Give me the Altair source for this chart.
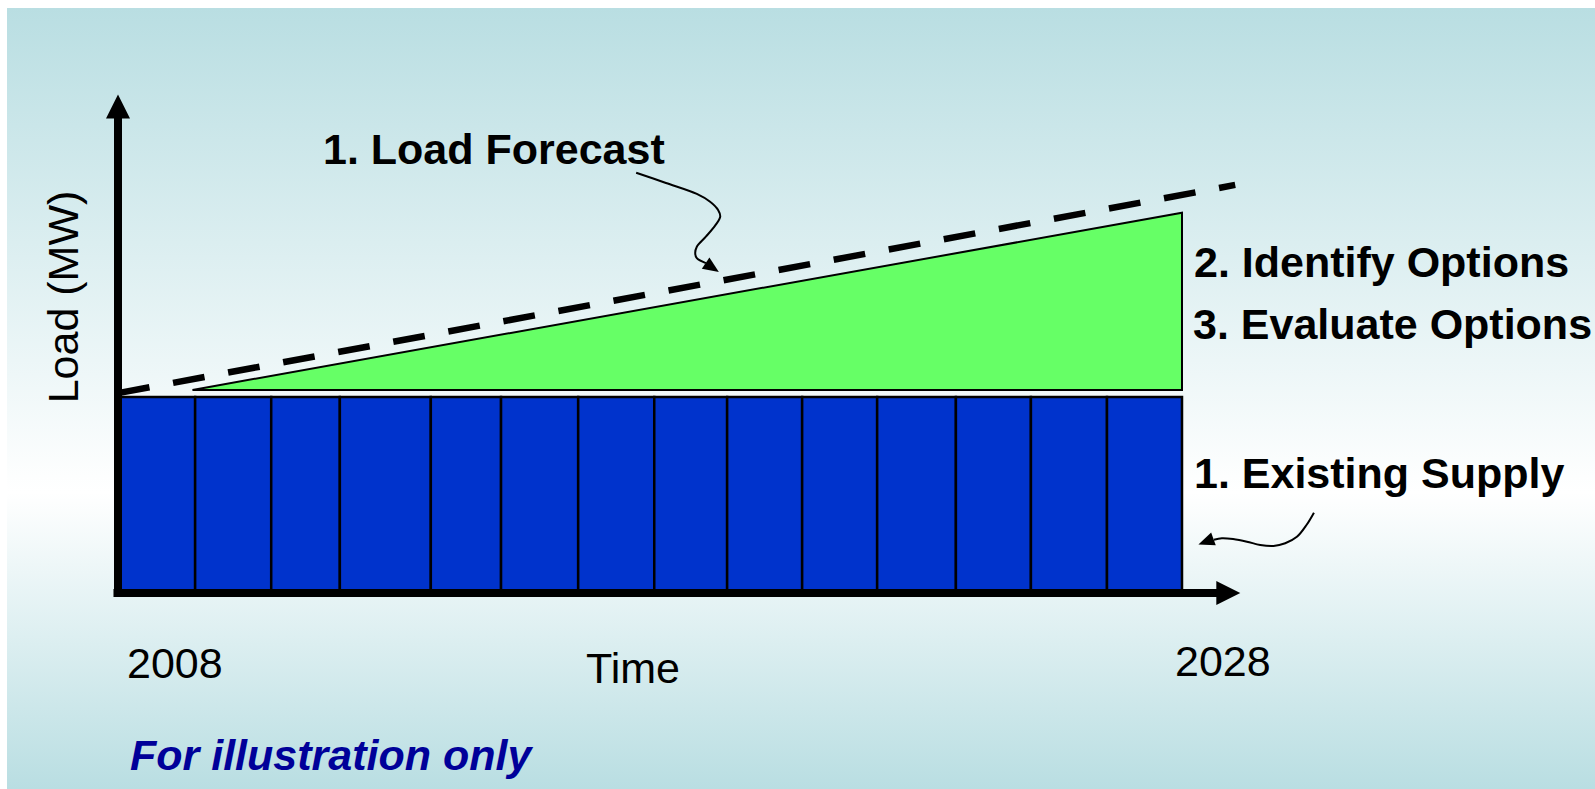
import altair as alt
import pandas as pd

# ---------------------------------------------------------------- data
# Existing supply: 14 generating units laid side by side over the horizon
unit_start = [2008.00, 2009.45, 2010.88, 2012.17, 2013.88, 2015.20, 2016.65,
              2018.08, 2019.45, 2020.86, 2022.27, 2023.75, 2025.16, 2026.59]
unit_end = [2009.45, 2010.88, 2012.17, 2013.88, 2015.20, 2016.65, 2018.08,
            2019.45, 2020.86, 2022.27, 2023.75, 2025.16, 2026.59, 2028.00]
existing_supply_mw = 1000

# Load forecast (dashed line)
forecast_year = [2008.0, 2029.0]
forecast_mw = [1020, 2082]

# Capacity gap between forecast load and existing supply (green wedge)
gap_year = [2009.4, 2028.0]
gap_top_mw = [1036, 1940]
gap_base_mw = 1036

# Axis lines (year / MW extents) and arrow tips
axis_x_from = [2008.0, 2007.915]
axis_x_to = [2008.0, 2028.66]
axis_y_from = [-20, 0]
axis_y_to = [2423, 0]
y_arrow_at = (2008.0, 2482)
x_arrow_at = (2028.87, 0)

# Callout connectors
load_callout_year = [2017.74, 2018.30, 2018.88, 2019.13, 2019.28, 2019.32,
                     2019.23, 2019.05, 2018.88, 2018.85, 2018.88, 2019.05]
load_callout_mw = [2144, 2092, 2036, 1996, 1954, 1920,
                   1877, 1818, 1767, 1733, 1708, 1683]
load_head_at = (2019.17, 1660)

supply_callout_year = [2030.48, 2030.34, 2030.16, 2029.94, 2029.72,
                       2029.47, 2029.22, 2028.96, 2028.75, 2028.60]
supply_callout_mw = [410, 347, 287, 254, 240, 245, 262, 275, 279, 272]
supply_head_at = (2028.45, 262)

# ---------------------------------------------------------------- scales
FONT = "Liberation Sans"
W, H = 1595, 789
xs = alt.Scale(domain=[2008, 2028], range=[118, 1182], nice=False, zero=False)
ys = alt.Scale(domain=[0, 1000], range=[593, 397], nice=False, zero=False)


def X(field):
    return alt.X(field, type="quantitative", scale=xs, axis=None)


def Y(field):
    return alt.Y(field, type="quantitative", scale=ys, axis=None)


one = pd.DataFrame({"k": [0]})

# ---------------------------------------------------------------- layers
background = alt.Chart(one).mark_rect(
    fill={
        "gradient": "linear", "x1": 0, "y1": 0, "x2": 0, "y2": 1,
        "stops": [
            {"offset": 0, "color": "#B9DEE2"},
            {"offset": 0.62, "color": "#FFFFFF"},
            {"offset": 1, "color": "#B9DEE2"},
        ],
    }
).encode(x=alt.value(7), x2=alt.value(W), y=alt.value(8), y2=alt.value(H))

units = pd.DataFrame({
    "start": unit_start,
    "end": unit_end,
    "base": [0] * len(unit_start),
    "top": [existing_supply_mw] * len(unit_start),
})
supply = alt.Chart(units).mark_rect(
    fill="#0033CC", stroke="black", strokeWidth=2.5
).encode(x=X("start"), x2="end", y=Y("base"), y2="top")

gap = pd.DataFrame({"year": gap_year, "top": gap_top_mw,
                    "base": [gap_base_mw] * len(gap_year)})
wedge = alt.Chart(gap).mark_area(
    color="#66FF66", stroke="black", strokeWidth=2, opacity=1
).encode(x=X("year"), y=Y("top"), y2="base")

fc = pd.DataFrame({"year": forecast_year, "mw": forecast_mw})
forecast = alt.Chart(fc).mark_line(
    color="black", strokeWidth=6.5, strokeDash=[32, 24]
).encode(x=X("year"), y=Y("mw"))

ax = pd.DataFrame({"x": axis_x_from, "x2": axis_x_to,
                   "y": axis_y_from, "y2": axis_y_to})
axes = alt.Chart(ax).mark_rule(color="black", strokeWidth=8).encode(
    x=X("x"), x2="x2", y=Y("y"), y2="y2")

y_head = alt.Chart(pd.DataFrame({"x": [y_arrow_at[0]], "y": [y_arrow_at[1]]})).mark_point(
    shape="M0,-1L1,1L-1,1Z", filled=True, size=576, color="black", opacity=1, strokeWidth=0
).encode(x=X("x"), y=Y("y"))
x_head = alt.Chart(pd.DataFrame({"x": [x_arrow_at[0]], "y": [x_arrow_at[1]]})).mark_point(
    shape="M1,0L-1,-1L-1,1Z", filled=True, size=576, color="black", opacity=1, strokeWidth=0
).encode(x=X("x"), y=Y("y"))


def callout(years, mws, head, angle):
    df = pd.DataFrame({"year": years, "mw": mws, "i": range(len(years))})
    line = alt.Chart(df).mark_line(
        color="black", strokeWidth=2, interpolate="catmull-rom"
    ).encode(x=X("year"), y=Y("mw"), order="i:O")
    tip = alt.Chart(pd.DataFrame({"year": [head[0]], "mw": [head[1]]})).mark_point(
        shape="M1,0L-1,-0.85L-1,0.85Z", filled=True, size=256, angle=angle,
        color="black", opacity=1, strokeWidth=0
    ).encode(x=X("year"), y=Y("mw"))
    return line + tip


def label(text, x, y, size=43, weight="bold", color="black", **kw):
    return alt.Chart(one).mark_text(
        text=text, font=FONT, fontSize=size, fontWeight=weight, color=color,
        align=kw.pop("align", "left"), baseline="alphabetic", **kw
    ).encode(x=alt.value(x), y=alt.value(y))


texts = [
    label("1. Load Forecast", 323, 164),
    label("2. Identify Options", 1194, 277),
    label("3. Evaluate Options", 1193, 339),
    label("1. Existing Supply", 1194, 488),
    label("Load (MW)", 78, 297, weight="normal", angle=270, align="center"),
    label("2008", 127, 678, weight="normal"),
    label("Time", 586, 683, weight="normal"),
    label("2028", 1175, 676, weight="normal"),
    label("For illustration only", 130, 770, color="#000099", fontStyle="italic"),
]

chart = alt.layer(
    background, supply, wedge, forecast, axes, y_head, x_head,
    callout(load_callout_year, load_callout_mw, load_head_at, 34),
    callout(supply_callout_year, supply_callout_mw, supply_head_at, 160),
    *texts,
).properties(
    width=W, height=H, padding=0,
    autosize=alt.AutoSizeParams(type="none"),
    background="white",
).configure_view(stroke="transparent")

chart.save("out.html", embed_options={"renderer": "svg", "actions": False})
